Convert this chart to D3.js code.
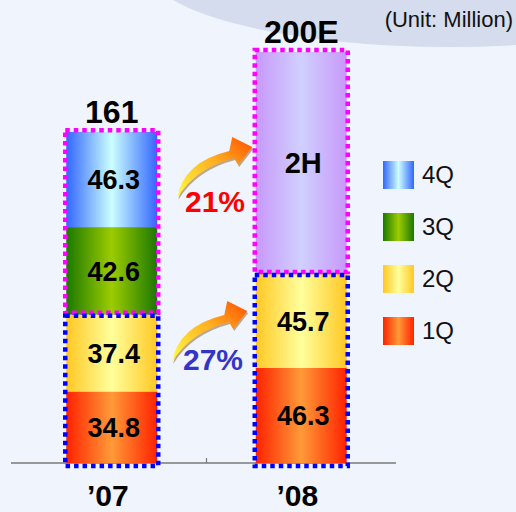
<!DOCTYPE html>
<html>
<head>
<meta charset="utf-8">
<script src="https://cdn.jsdelivr.net/npm/d3@7"></script>
<style>
  html, body { margin: 0; padding: 0; background: #f0f4fd; }
  svg { display: block; font-family: Arial, "Liberation Sans", sans-serif; }
</style>
</head>
<body>
<svg id="viz"></svg>
<script>
var width = 516;
var height = 512;

// chart data
var years = ["\u201907", "\u201908"];
var totalLabels = ["161", "200E"];
var totals = [161, 200];
var segKeys07 = ["1Q", "2Q", "3Q", "4Q"];
var segVals07 = [34.8, 37.4, 42.6, 46.3];
var segKeys08 = ["1Q", "2Q", "2H"];
var segVals08 = [46.3, 45.7, 108.0];
var legendKeys = ["4Q", "3Q", "2Q", "1Q"];
var growthLabels = ["21%", "27%"];

// gradient colours per segment: edge, centre
var fills = {
  "1Q": ["#ff2200", "#ff9a38"],
  "2Q": ["#ffc824", "#ffff9c"],
  "3Q": ["#1c7800", "#9ccc00"],
  "4Q": ["#3366ff", "#ccffff"],
  "2H": ["#c898fa", "#d0d0ff"]
};

var svg = d3.select("#viz").attr("width", width).attr("height", height);
var defs = svg.append("defs");

Object.keys(fills).forEach(function(k) {
  var g = defs.append("linearGradient").attr("id", "g" + k)
    .attr("x1", "0%").attr("x2", "100%").attr("y1", "0%").attr("y2", "0%");
  g.append("stop").attr("offset", "0%").attr("stop-color", fills[k][0]);
  g.append("stop").attr("offset", "50%").attr("stop-color", fills[k][1]);
  g.append("stop").attr("offset", "100%").attr("stop-color", fills[k][0]);
});

var ag = defs.append("linearGradient").attr("id", "arrowGrad")
  .attr("x1", "0%").attr("x2", "100%").attr("y1", "100%").attr("y2", "0%");
ag.append("stop").attr("offset", "0%").attr("stop-color", "#ffff40");
ag.append("stop").attr("offset", "55%").attr("stop-color", "#ffb020");
ag.append("stop").attr("offset", "100%").attr("stop-color", "#ff5000");

// background blob top right
svg.append("ellipse")
  .attr("cx", 450).attr("cy", -33).attr("rx", 304).attr("ry", 80)
  .attr("fill", "#d5dcee");

// scales
var x = d3.scaleBand().domain(years).range([17, 396])
  .paddingInner(0.52).paddingOuter(0.26);
var y = d3.scaleLinear().domain([0, 200]).range([463, 52]);
var bw = x.bandwidth();

function stackUp(keys, vals) {
  var acc = 0;
  return keys.map(function(k, i) {
    var d = {key: k, v: vals[i], y0: acc, y1: acc + vals[i]};
    acc += vals[i];
    return d;
  });
}
var stacks = [stackUp(segKeys07, segVals07), stackUp(segKeys08, segVals08)];

// axis line with middle tick
var base = y(0);
svg.append("line").attr("x1", 11).attr("x2", 396).attr("y1", base).attr("y2", base)
  .attr("stroke", "#7a7a7a").attr("stroke-width", 1.5);
var midX = x(years[0]) + bw + x.step() * x.paddingInner() / 2;
svg.append("line").attr("x1", midX).attr("x2", midX).attr("y1", base).attr("y2", base - 5)
  .attr("stroke", "#7a7a7a").attr("stroke-width", 1.2);

// bars
years.forEach(function(yr, bi) {
  var bx = x(yr);
  var g = svg.append("g");
  g.selectAll("rect").data(stacks[bi]).enter().append("rect")
    .attr("x", bx).attr("width", bw)
    .attr("y", function(d) { return y(d.y1); })
    .attr("height", function(d) { return y(d.y0) - y(d.y1); })
    .attr("fill", function(d) { return "url(#g" + d.key + ")"; });

  g.selectAll("text").data(stacks[bi]).enter().append("text")
    .attr("x", bx + bw / 2 + 2)
    .attr("y", function(d) { return (y(d.y0) + y(d.y1)) / 2; })
    .attr("dy", "0.36em")
    .attr("text-anchor", "middle")
    .attr("font-weight", "bold")
    .attr("font-size", function(d) { return d.key == "2H" ? 29 : 27; })
    .attr("fill", "#000")
    .text(function(d) { return d.key == "2H" ? "2H" : d.v.toFixed(1); });

  // half-year dotted boxes
  var half = stacks[bi][0].v + stacks[bi][1].v;
  g.append("rect")
    .attr("x", bx - 1).attr("width", bw + 2)
    .attr("y", y(totals[bi]) - 2).attr("height", y(half) - y(totals[bi]))
    .attr("fill", "none").attr("stroke", "#ff00ff")
    .attr("stroke-width", 4.5).attr("stroke-dasharray", "4.5,4");
  g.append("rect")
    .attr("x", bx - 1).attr("width", bw + 2)
    .attr("y", y(half) + 1).attr("height", base + 2 - y(half))
    .attr("fill", "none").attr("stroke", "#0000ff")
    .attr("stroke-width", 4.5).attr("stroke-dasharray", "4.5,4");

  // total label
  svg.append("text")
    .attr("x", bx + bw / 2).attr("y", y(totals[bi]) - 9)
    .attr("text-anchor", "middle").attr("font-weight", "bold")
    .attr("font-size", 32).attr("fill", "#000")
    .text(totalLabels[bi]);

  // category label
  svg.append("text")
    .attr("x", bx + bw / 2 - 4).attr("y", 506)
    .attr("text-anchor", "middle").attr("font-weight", "bold")
    .attr("font-size", 30).attr("fill", "#000")
    .text(yr);
});

// growth arrows
var arrowPath = "M0,0 Q6,-36 52,-47 L55,-61 L75,-51 L61,-33 L57,-40 Q18,-30 0,0 Z";
var arrows = [
  {tx: x(years[0]) + bw + 20, ty: 198, label: growthLabels[0], color: "#ff0000", lx: 215, ly: 212},
  {tx: x(years[0]) + bw + 15, ty: 362, label: growthLabels[1], color: "#3434c8", lx: 213, ly: 370}
];
arrows.forEach(function(a) {
  svg.append("path").attr("d", arrowPath)
    .attr("transform", "translate(" + (a.tx + 1) + "," + (a.ty + 2) + ")")
    .attr("fill", "#8a5a20").attr("opacity", 0.5);
  svg.append("path").attr("d", arrowPath)
    .attr("transform", "translate(" + a.tx + "," + a.ty + ")")
    .attr("fill", "url(#arrowGrad)");
  svg.append("text")
    .attr("x", a.lx).attr("y", a.ly)
    .attr("text-anchor", "middle").attr("font-weight", "bold")
    .attr("font-size", 30).attr("fill", a.color)
    .text(a.label);
});

// legend
var ly = d3.scalePoint().domain(legendKeys).range([175, 331]);
var legend = svg.append("g").selectAll("g").data(legendKeys).enter().append("g")
  .attr("transform", function(d) { return "translate(383," + ly(d) + ")"; });
legend.append("rect")
  .attr("x", 0).attr("y", -14).attr("width", 31).attr("height", 28)
  .attr("fill", function(d) { return "url(#g" + d + ")"; });
legend.append("text")
  .attr("x", 39).attr("y", 8)
  .attr("font-size", 24).attr("fill", "#111")
  .text(function(d) { return d; });

// unit note
svg.append("text")
  .attr("x", 513).attr("y", 27)
  .attr("text-anchor", "end").attr("font-size", 22).attr("fill", "#111")
  .text("(Unit: Million)");
</script>
</body>
</html>
